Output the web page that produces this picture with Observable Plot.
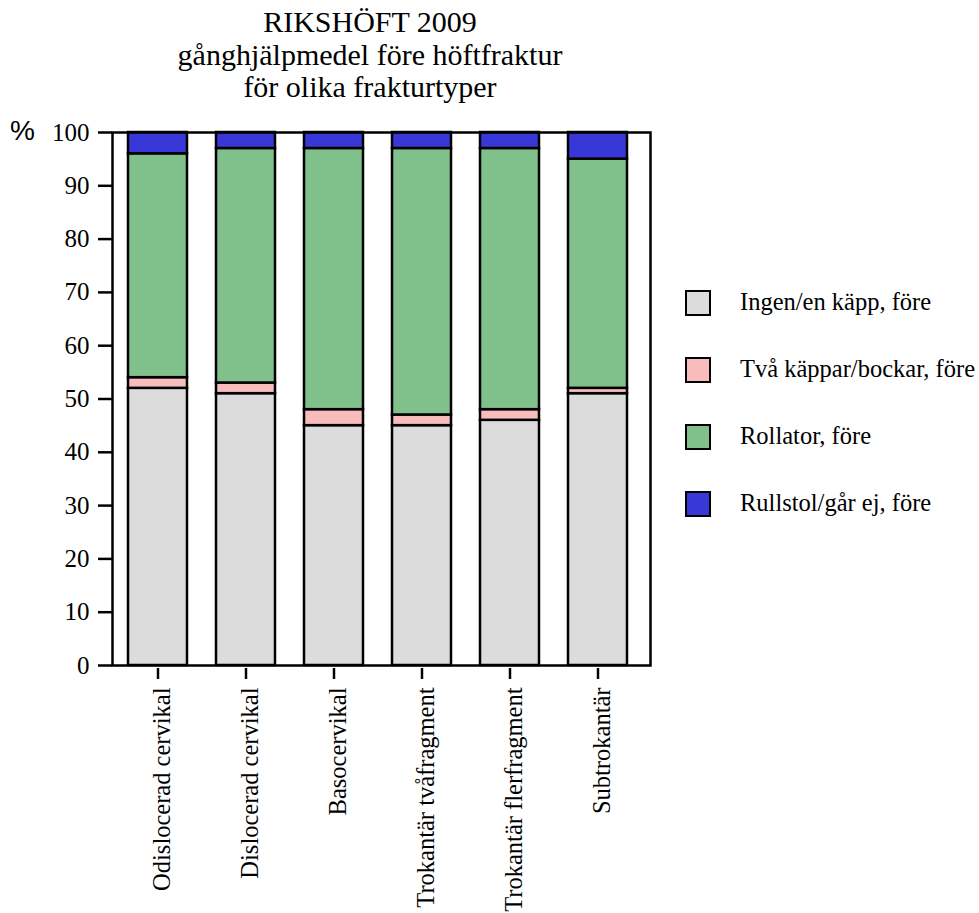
<!DOCTYPE html>
<html>
<head>
<meta charset="utf-8">
<script src="https://cdn.jsdelivr.net/npm/d3@7"></script>
<script src="https://cdn.jsdelivr.net/npm/@observablehq/plot@0.6"></script>
<style>
  body { margin: 0; background: white; }
  #wrap { position: relative; width: 979px; height: 913px; font-family: 'Liberation Serif', 'Times New Roman', serif; }
  #title { position: absolute; left: 0; top: 6px; width: 740px; text-align: center; font-family: 'Liberation Serif', 'Times New Roman', serif; font-size: 30px; line-height: 32.5px; color: #000; }
  #pct { position: absolute; left: 10px; top: 115px; font-family: 'Liberation Sans', Arial, sans-serif; font-size: 28px; color: #000; }
  #legend { position: absolute; left: 685px; top: 290px; }
  .row { position: absolute; left: 0; height: 26px; white-space: nowrap; }
  .sw { position: absolute; left: 0; top: 0; width: 22px; height: 22px; border: 2px solid #000; }
  .lb { position: absolute; left: 55px; top: -1px; font-family: 'Liberation Serif', 'Times New Roman', serif; font-size: 24.5px; line-height: 26px; color: #000; }
  #chart { position: absolute; left: 0; top: 0; }
</style>
</head>
<body>
<div id="wrap">
  <div id="chart"></div>
  <div id="title">RIKSHÖFT 2009<br>gånghjälpmedel före höftfraktur<br>för olika frakturtyper</div>
  <div id="pct">%</div>
  <div id="legend"></div>
</div>
<script>
const categories = ["Odislocerad cervikal", "Dislocerad cervikal", "Basocervikal", "Trokantär tvåfragment", "Trokantär flerfragment", "Subtrokantär"];
const series = ["Ingen/en käpp, före", "Två käppar/bockar, före", "Rollator, före", "Rullstol/går ej, före"];
const ingen = [52, 51, 45, 45, 46, 51];
const tvaKappar = [2, 2, 3, 2, 2, 1];
const rollator = [42, 44, 49, 50, 49, 43];
const rullstol = [4, 3, 3, 3, 3, 5];
const colors = ["#dcdcdc", "#f9bcbc", "#80c08a", "#3838d8"];
const yTicks = [0, 10, 20, 30, 40, 50, 60, 70, 80, 90, 100];

const seriesValues = [ingen, tvaKappar, rollator, rullstol];
const rows = [];
categories.forEach((c, i) => {
  series.forEach((s, j) => rows.push({cat: c, series: s, value: seriesValues[j][i]}));
});

const chart = Plot.plot({
  width: 979,
  height: 913,
  marginTop: 132,
  marginLeft: 112,
  marginRight: 329,
  marginBottom: 248,
  style: {fontFamily: "'Liberation Serif', 'Times New Roman', serif", fontSize: "24px", color: "black", background: "white", overflow: "visible"},
  x: {domain: categories, paddingInner: 0.33, paddingOuter: 0.2, align: 0.4, axis: null},
  y: {domain: [0, 100], axis: null},
  color: {domain: series, range: colors},
  marks: [
    Plot.barY(rows, {x: "cat", y: "value", fill: "series", stroke: "black", strokeWidth: 2.5, order: series}),
    Plot.frame({stroke: "black", strokeWidth: 2.5}),
    Plot.axisY({ticks: yTicks, tickSize: 14, tickPadding: 9, strokeWidth: 2.5, label: null, fontSize: 25}),
    Plot.axisX({tickSize: 11, dy: 3, strokeWidth: 2.5, tickFormat: () => "", label: null}),
    Plot.axisX({tickSize: 0, tickPadding: 22, tickRotate: -90, dx: 4, label: null, fontSize: 24.5})
  ]
});
document.getElementById("chart").appendChild(chart);

const legend = document.getElementById("legend");
series.forEach((s, i) => {
  const row = document.createElement("div");
  row.className = "row";
  row.style.top = (i * 67) + "px";
  row.innerHTML = `<div class="sw" style="background:${colors[i]}"></div><div class="lb">${s}</div>`;
  legend.appendChild(row);
});
</script>
</body>
</html>
